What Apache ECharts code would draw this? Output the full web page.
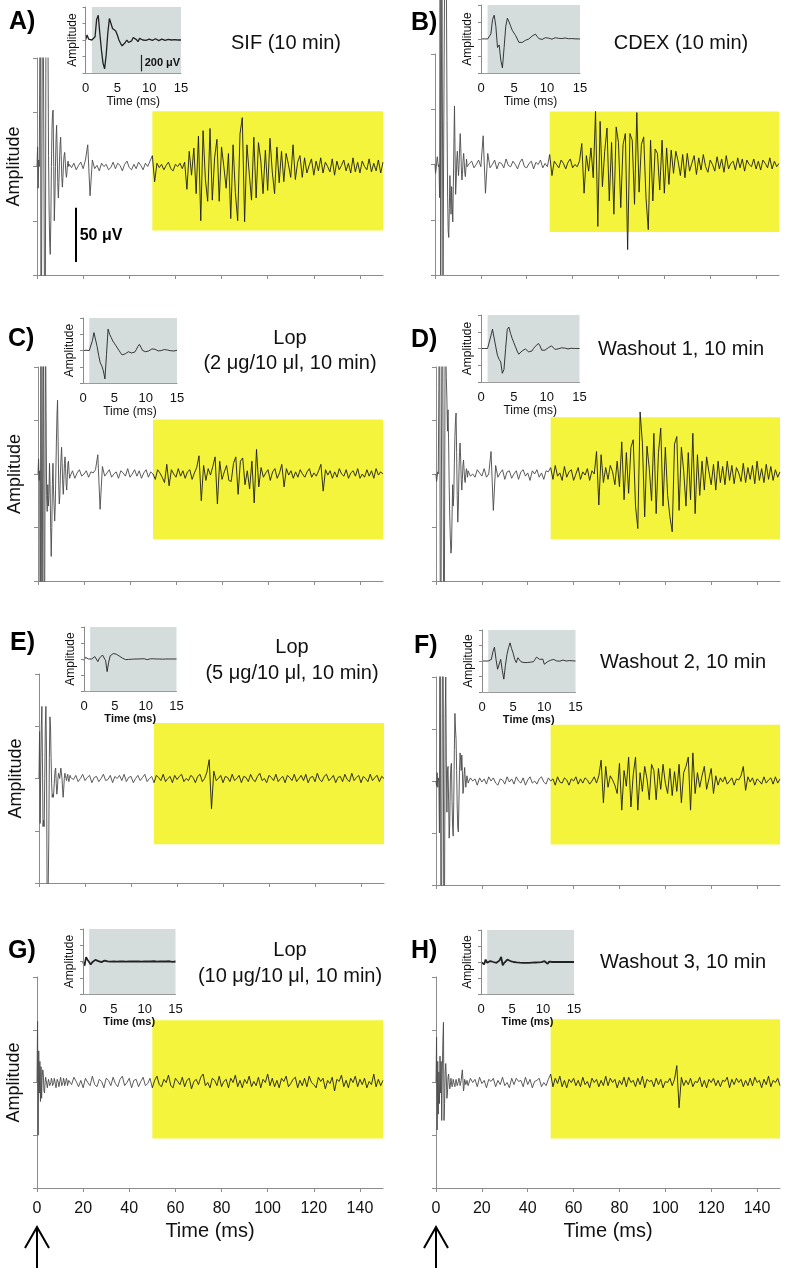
<!DOCTYPE html>
<html><head><meta charset="utf-8">
<script src="https://cdn.jsdelivr.net/npm/echarts@6/dist/echarts.min.js"></script>
<style>html,body{margin:0;padding:0;background:#fff}#c{width:788px;height:1273px}</style>
</head><body><div id="c"></div>
<script>
// ---------------- DATA ----------------
const panelLetters = ['A)','B)','C)','D)','E)','F)','G)','H)'];
const panelTitles = [
  ['SIF (10 min)'], ['CDEX (10 min)'],
  ['Lop','(2 μg/10 μl, 10 min)'], ['Washout 1, 10 min'],
  ['Lop','(5 μg/10 μl, 10 min)'], ['Washout 2, 10 min'],
  ['Lop','(10 μg/10 μl, 10 min)'], ['Washout 3, 10 min']
];
const mainXTicks = [0,20,40,60,80,100,120,140];
const insetXTicks = [0,5,10,15];
const earlyStep = 0.25;   // ms, samples 0 .. 13.75 ms
const lateStart = 14;     // ms
const lateStep = 1;       // ms, samples 14 .. 150 ms
const insetStep = 0.25;   // ms, samples 0 .. 15 ms
const windowStart = 50, windowEnd = 150;   // analysis window (ms)
const insetShadeStart = 1, insetShadeEnd = 15;
// analysis window vertical extent per panel (µV)
const windowLow  = [-59,-61,-61,-61,-63,-61,-53,-53];
const windowHigh = [ 51, 48, 51, 53, 53, 54, 59, 60];
const scaleBarMain = 50;   // µV
const scaleBarInset = 200; // µV

const earlyA = [0,18,-20,6,0,0,250,-250, -250,-250,250,250,250,250,-250,-250,
  250,250,250,120,10,-40,-70,-81, -50,0,35,50,52,0,-50,-30,
  0,25,38,15,-15,-29,-15,5, 20,27,10,-10,-19,-10,3,10, 13,5,-5,-10,-5,3,5,0];
const lateA = [2,-1,3,-3,1,4,-2,6,20,-27, 6,-2,1,-4,3,0,2,-3,-1,4,
  -2,3,1,-4,2,5,-1,-3,2,-2, 4,1,-3,3,0,5,10,-14,3,-1,
  2,-3,1,4,-2,-4,2,0,3,-2, 4,-21,14,-8,17,-25,28,-50,33,-12,
  -32,35,-31,8,25,-32,18,0,-20,12, -48,20,-24,-50,30,45,-51,20,-6,-31,
  27,-29,22,6,-25,15,-22,26,-5,-25, 18,-15,14,-14,12,2,-10,20,-12,4,
  10,-10,8,-6,1,7,-8,5,-4,8, -6,4,0,-5,7,-8,5,-3,1,6,
  -4,3,-6,8,-5,4,-6,5,0,-3, 7,-5,3,-4,6,-6,4];
const insetA = [0,60,10,0,0,5,40,250, 300,80,-120,-280,-350,-180,80,260,
  200,140,130,110,60,0,-40,-70, -60,-30,0,-30,-45,-10,30,35,
  5,-20,20,25,0,-15,-5,5, 10,0,-5,10,15,0,-8,5, 10,2,-5,3,8,2,0,3, 5,2,0,2,0];

const earlyB = [0,-8,-4,3,7,2,-2,0, -30,185,-100,-100,185,185,-100,-100,
  100,185,185,185,150,40,-30,-60, -66,-40,-10,-30,-45,-20,-35,-52,
  -20,20,53,10,-27,-15,5,12, 0,-10,0,15,28,15,-5,-14, -8,4,10,2,-8,-11,-3,5];
const lateB = [-2,1,3,-3,0,4,-2,26,-26,10, -3,0,4,-4,2,1,-3,5,-1,-2,
  3,0,-4,2,5,-2,-3,1,3,-4, 2,0,4,-3,1,-2,9,-10,3,0,
  -3,4,1,-4,2,5,-3,0,-2,3, 19,-26,8,-6,15,-12,48,-56,39,-20,
  12,33,-33,20,-45,34,20,-39,18,28, -77,28,22,-36,47,-25,18,25,-30,-59,
  22,-33,14,10,-23,22,-26,15,-18,13, -8,12,3,-10,9,-12,10,-6,1,8,
  -9,6,-5,9,-2,-7,4,0,-6,7, -4,5,-7,8,-4,1,3,-5,6,-3,
  5,-6,4,0,-2,5,-4,3,-5,4, 1,-3,6,-4,3,-2,1];
const insetB = [0,0,2,0,0,10,60,230, 280,150,-100,-70,-250,-340,-100,150,
  245,200,150,100,70,40,0,-40, -57,-40,-25,-15,-10,0,15,35,
  50,57,30,5,-10,-5,5,15, 20,10,0,-2,5,15,18,8, 2,5,10,12,5,3,6,5, 3,2,0,1,0];

const earlyC = [0,14,-6,3,-250,250,250,-250, -250,250,250,-250,-250,150,60,-20,
  -35,-10,-30,-20,10,-10,-50,-77, -50,-10,10,-15,-30,-44,-30,0,
  30,55,69,30,-10,-28,-20,0, 15,25,10,-10,-19,-5,10,16, 5,-10,-15,-2,10,12,2,-4];
const lateC = [-2,3,-4,1,4,-2,0,3,-3,2, 1,4,18,-33,7,-2,1,4,-3,0,
  2,-4,3,1,-2,5,-3,0,4,-2, 3,-4,1,4,-3,2,0,-5,4,1,
  -3,-8,9,-11,4,0,-3,5,-2,3, -4,2,4,-5,1,6,17,-25,8,-6,
  5,-1,7,16,-28,12,-5,2,8,-6, -7,10,16,-19,12,15,-10,3,-14,12,
  -27,23,-12,6,-3,1,4,-6,2,5, -4,1,9,-12,5,-1,3,-4,2,-3,
  4,0,-3,2,5,-3,1,-2,3,9, -16,4,-1,3,-4,2,-3,5,0,-2,
  4,-4,1,3,-2,5,-4,0,-3,4, -2,3,-4,5,-1,2,0];
const insetC = [0,0,3,0,0,20,120,220, 200,50,-60,-150,-190,-250,-350,-50,
  263,200,160,117,90,60,30,0, -30,-55,-70,-40,-25,-15,-20,-30,
  -40,-20,10,50,75,40,0,-10, -15,-12,-5,10,20,22,15,5, -5,-8,0,10,12,8,5,0, -3,-8,-6,0,3];

const earlyD = [0,-7,-3,2,0,80,250,250, -250,-250,-250,250,250,250,-250,-250,
  150,120,90,70,40,60,30,-10, -40,-60,-74,-70,-40,-10,-30,-20,
  10,35,50,57,20,-20,-45,-30, 0,20,29,15,-5,-15,-5,8, 13,4,-6,-8,0,5,2,-3];
const lateD = [3,-2,0,-3,4,1,-2,5,-3,0, 21,-34,8,-3,1,4,-5,2,3,-4,
  0,3,-5,2,4,-2,1,-6,3,0, 4,-3,1,-5,3,2,6,-5,8,-2,
  1,-6,7,-3,2,4,-6,0,6,-5, 2,-1,5,-6,3,0,21,-29,18,-8,
  6,-5,8,2,-10,12,-12,30,-24,20, -18,25,32,-30,-51,58,29,-40,26,5,
  -25,38,-37,20,43,-30,25,-20,-40,-54, 28,35,-34,25,3,-30,20,-24,38,-37,
  18,-20,12,-15,16,2,-10,9,-15,12, -8,7,-10,12,-6,8,-9,6,1,-7,
  10,-8,6,-5,8,-9,12,-6,5,-8, 9,-5,7,-6,4,-3,2];
const insetD = [0,0,0,2,0,20,150,230, 220,20,-80,-128,-160,-296,-250,0,
  230,256,180,120,70,20,-30,-68, -50,-30,-20,-5,-10,-40,-56,-30,
  0,25,45,60,30,-20,-40,-20, -5,10,25,32,15,-10,-20,-5, 5,8,12,5,-10,-5,0,3, 0,0,2,0,0];

const earlyE = [0,45,-43,10,50,69,20,-46, -40,-46,0,50,69,30,-100,-150,
  -150,-60,20,59,50,20,-5,-18, -15,-18,-10,0,8,10,-5,-15,
  -10,0,5,3,0,5,10,11, 0,-10,-18,-10,0,5,3,0, -2,2,4,0,-3,0,3,1];
const lateE = [2,-1,3,-3,0,4,-2,1,3,-4, 1,2,-3,0,4,-2,-1,3,-4,2,
  0,3,-2,4,-3,1,2,-4,0,3, -2,1,4,-3,0,2,-4,3,1,-2,
  4,-3,0,2,-4,3,-1,2,4,-3, 0,-2,3,1,-4,2,4,-3,0,6,
  18,-29,7,-2,0,3,-4,2,1,-3, 4,-2,0,3,-4,2,1,-3,4,-1,
  -3,2,5,-2,0,-4,3,1,-2,4, -3,0,2,-4,3,1,-2,4,-3,0,
  3,-2,4,-4,1,2,-3,5,-1,-3, 2,4,-2,0,3,-4,1,2,-3,4,
  -1,-3,5,-2,1,3,-4,2,0,-3, 4,-2,1,3,-3,2,0];
const insetE = [-20,20,40,0,-15,0,20,30, 40,-33,10,30,50,62,-20,-158,
  -40,40,60,68,70,60,50,35, 20,10,-5,-8,-8,-5,-5,-3,
  0,0,-2,0,0,2,0,3, 12,-8,0,2,8,3,0,0, 2,0,0,-2,0,0,2,0, 0,0,-2,0,0];

const earlyF = [0,-5,8,-6,3,0,-50,250, 250,-250,-250,-250,250,250,-250,-250,
  60,100,20,-30,10,14,-20,-55, -40,0,15,17,-20,-45,-53,-20,
  30,65,50,40,10,-25,-45,-49, -20,10,27,20,10,25,10,-12, -8,6,13,2,-6,0,5,2];
const lateF = [-2,3,0,2,-4,3,-1,2,-3,4, 0,3,-2,-4,2,1,-3,4,-1,2,
  -3,4,0,-2,3,-4,1,4,-2,0, -3,2,4,-1,-3,3,0,2,-4,4,
  -1,-2,3,1,-4,2,0,4,-3,2, -2,3,1,-3,0,4,-2,5,20,-21,
  14,-6,5,1,-4,-12,17,-28,10,-5, 23,-25,6,23,-28,8,-10,14,2,-18,
  16,10,-18,12,-8,16,-2,-12,12,-14, 9,-10,16,-21,8,14,23,-28,27,-12,
  8,-6,5,14,-8,2,12,-12,5,-4, 3,-1,4,-3,0,3,-4,2,1,5,
  14,-9,4,-1,3,-4,2,0,-3,4, -2,1,3,-3,4,-2,2];
const insetF = [0,0,0,0,0,10,20,120, 178,20,-106,-90,21,-120,-234,-60,
  80,170,234,160,100,20,-21,42, 20,-10,5,-20,-42,-20,0,-15,
  -30,-10,20,50,72,20,40,25, -42,-30,-10,0,10,15,20,10, 0,-5,-2,5,12,10,0,-5, 5,10,3,0,0];

const earlyG = [0,58,-50,30,-10,20,-18,15, -15,5,12,8,-8,-10,0,5,
  4,-2,-5,0,3,2,-3,-4, 0,4,2,-3,-4,0,4,3,
  -2,-5,-1,3,4,0,-4,-3, 2,5,1,-3,-4,0,4,2, -3,-4,1,4,2,-3,-2,2];
const lateG = [3,-2,5,1,-4,2,-5,4,0,-3, 6,-2,-4,3,1,-5,4,2,-3,5,
  -1,-4,3,6,-3,0,4,-5,2,3, -4,1,5,-3,-1,4,-5,2,6,-2,
  -4,3,0,7,-3,-5,4,1,-2,5, -4,2,4,-6,1,3,-2,5,8,-3,
  0,-5,4,2,-3,6,-4,1,3,-5, 4,0,7,-4,2,-5,3,-1,6,-4,
  1,-3,5,-5,3,0,8,-3,4,-4, 2,-5,4,1,6,-4,-1,3,5,-5,
  2,-3,4,-4,6,0,-2,-5,5,1, 4,-6,2,-1,5,-8,3,1,7,-4,
  2,-5,4,0,6,-4,3,-2,4,-5, 1,-2,8,-4,3,-3,2];
const insetG = [0,-50,54,20,10,-37,-10,5, 20,25,5,-8,-8,5,12,8,
  2,0,-2,0,2,0,-2,0, 2,2,0,0,-2,0,2,0,
  0,-2,0,2,0,0,-2,0, 2,0,0,-2,0,2,3,0, -2,0,0,2,0,-2,0,2, 3,0,-5,0,0];

const earlyH = [0,43,-45,20,-30,10,-20,25, -10,20,-36,10,40,57,-36,-20,
  10,18,5,-15,-10,5,8,0, -6,-3,4,3,-4,-2,3,4,
  -2,-4,0,3,2,-3,-4,1, 4,2,-3,-4,2,8,12,2, -8,-4,3,4,-2,-3,2,3];
const lateH = [-3,4,0,3,-4,5,-1,2,-5,3, 1,4,-4,2,-2,5,-3,0,-5,4,
  -2,4,1,2,-4,5,-2,3,-5,1, 2,4,-4,0,-3,3,8,-4,4,-1,
  6,-4,2,-5,3,0,4,-3,2,-4, 5,-2,1,-5,4,0,3,-4,2,-3,
  6,-3,4,0,3,-5,2,-2,5,-4, 5,0,2,-4,4,-2,6,-5,3,1,
  2,-4,4,-2,3,-5,1,0,4,-3, 3,16,-24,5,-3,2,-2,4,-4,1,
  0,5,-4,2,-5,3,0,4,-3,2, -4,2,1,5,-5,3,-2,4,0,3,
  -4,2,-3,4,-3,5,0,2,-5,3, -2,6,-4,2,0,4,-3];
const insetH = [0,20,-30,30,-10,5,12,5, 0,8,-10,-21,20,64,-42,-10,
  15,30,20,12,5,0,-2,-5, -5,-8,-8,-10,-10,-12,-12,-10,
  -10,-8,-8,-6,-6,-5,-4,-2, 0,10,12,-21,5,0,0,0, 0,0,0,0,0,0,0,0, 0,0,0,0,0];

// ---------------- LAYOUT / STYLE ----------------
const FONT = 'Liberation Sans, Arial, Helvetica, sans-serif';
const earlyList = [earlyA,earlyB,earlyC,earlyD,earlyE,earlyF,earlyG,earlyH];
const lateList  = [lateA,lateB,lateC,lateD,lateE,lateF,lateG,lateH];
const insetList = [insetA,insetB,insetC,insetD,insetE,insetF,insetG,insetH];
const mainBoxes = [[37,58,346,217],[435,54,344,221],[38,367,345,214],[436,367,344,214],
                   [39,674,345,209],[436,677,344,208],[37,977,346,211],[436,977,344,211]];
const insetBoxes = [[85.5,7,95.5,66],[481,5,99,68],[83,318,94,65],[481,315,98.5,67],
                    [84,627,92.5,64],[482,630,93.5,62],[83,929,92.5,65],[481,930,93,64]];
const letterPos = [[9,24],[411,25],[8,341],[411,342],[10,645],[414,648],[8,953],[411,953]];
const titlePos = [[[286,43]],[[681,43]],[[290,338],[290,363]],[[681,349]],
                  [[292,647],[292,673]],[[683,662]],[[290,950],[290,976]],[[683,962]]];

function buildTrace(early, late) {
  const d = [];
  early.forEach((v, i) => d.push([i * earlyStep, v]));
  late.forEach((v, i) => d.push([lateStart + i * lateStep, v]));
  return d;
}
function buildInset(vals) { return vals.map((v, i) => [i * insetStep, v]); }

const grids = [], xAxes = [], yAxes = [], series = [];
const AX = '#8c8c8c';
for (let i = 0; i < 8; i++) {
  const b = mainBoxes[i];
  grids.push({left: b[0], top: b[1], width: b[2], height: b[3]});
  const bottomRow = i >= 6;
  xAxes.push({
    type: 'value', gridIndex: i, min: 0, max: 150,
    axisLine: {onZero: false, lineStyle: {color: AX, width: 1}},
    axisTick: {show: true, customValues: mainXTicks, length: 4, lineStyle: {color: AX}},
    axisLabel: {show: bottomRow, customValues: mainXTicks, fontSize: 16, color: '#111', margin: 13, fontFamily: FONT},
    splitLine: {show: false},
    name: bottomRow ? 'Time (ms)' : '', nameLocation: 'middle', nameGap: 33,
    nameTextStyle: {fontSize: 20, color: '#111', fontFamily: FONT}
  });
  yAxes.push({
    type: 'value', gridIndex: i, min: -100, max: 100, interval: 50,
    axisLine: {show: true, onZero: false, lineStyle: {color: AX, width: 1}},
    axisTick: {show: true, length: 4, lineStyle: {color: AX}},
    axisLabel: {show: false}, splitLine: {show: false},
    name: (i % 2 === 0) ? 'Amplitude' : '', nameLocation: 'middle', nameGap: 14,
    nameTextStyle: {fontSize: 18, color: '#111', fontFamily: FONT}
  });
}
for (let i = 0; i < 8; i++) {
  const b = insetBoxes[i];
  grids.push({left: b[0], top: b[1], width: b[2], height: b[3]});
  const boldName = i >= 4;
  xAxes.push({
    type: 'value', gridIndex: 8 + i, min: 0, max: 15, interval: 5, z: 6,
    axisLine: {onZero: false, lineStyle: {color: '#9a9a9a', width: 1}},
    axisTick: {show: false},
    axisLabel: {show: true, customValues: insetXTicks, fontSize: 13, color: '#111', margin: 9, fontFamily: FONT},
    splitLine: {show: false},
    name: 'Time (ms)', nameLocation: 'middle', nameGap: 21,
    nameTextStyle: {fontSize: boldName ? 11 : 12, color: '#111', fontWeight: boldName ? 'bold' : 'normal', fontFamily: FONT}
  });
  yAxes.push({
    type: 'value', gridIndex: 8 + i, min: -400, max: 400, interval: 200, z: 6,
    axisLine: {show: true, onZero: false, lineStyle: {color: '#8a8a8a', width: 1}},
    axisTick: {show: true, length: 3, lineStyle: {color: '#8a8a8a'}},
    axisLabel: {show: false}, splitLine: {show: false},
    name: 'Amplitude', nameLocation: 'middle', nameGap: 7,
    nameTextStyle: {fontSize: 12, color: '#111', fontFamily: FONT}
  });
}

for (let i = 0; i < 8; i++) {
  const full = buildTrace(earlyList[i], lateList[i]);
  // trace drawn lighter before the analysis window and darker inside it
  const pre = full.filter(p => p[0] <= windowStart);
  const post = full.filter(p => p[0] >= windowStart);
  const s = {
    type: 'line', xAxisIndex: i, yAxisIndex: i,
    data: pre,
    showSymbol: false, symbol: 'none', clip: i !== 1,
    lineStyle: {color: '#4a4a4a', width: 0.9},
    animation: false, silent: true,
    markArea: {
      silent: true,
      itemStyle: {color: '#f4f43c', opacity: 1},
      data: [[{xAxis: windowStart, yAxis: windowLow[i]}, {xAxis: windowEnd, yAxis: windowHigh[i]}]]
    }
  };
  if (i === 0) {
    s.markLine = {
      silent: true, symbol: ['none', 'none'],
      lineStyle: {color: '#000', width: 2, type: 'solid'},
      label: {show: false},
      data: [[{coord: [17, -38]}, {coord: [17, -38 - scaleBarMain]}]]
    };
    s.markPoint = {
      silent: true, symbol: 'circle', symbolSize: 0,
      data: [{coord: [18.5, -64], label: {show: true, position: 'right', distance: 0,
        formatter: scaleBarMain + ' μV', fontSize: 16, fontWeight: 'bold', color: '#000', fontFamily: FONT}}]
    };
  }
  series.push(s);
  series.push({
    type: 'line', xAxisIndex: i, yAxisIndex: i, z: 3,
    data: post,
    showSymbol: false, symbol: 'none', clip: true,
    lineStyle: {color: '#1c1c1c', width: 0.9},
    animation: false, silent: true
  });
}
for (let i = 0; i < 8; i++) {
  const thick = i >= 6;
  const s = {
    type: 'line', xAxisIndex: 8 + i, yAxisIndex: 8 + i,
    data: buildInset(insetList[i]),
    showSymbol: false, symbol: 'none', clip: true, z: 4,
    lineStyle: {color: '#222', width: thick ? 1.8 : (i === 0 ? 1.3 : 0.9)},
    animation: false, silent: true,
    markArea: {
      silent: true,
      itemStyle: {color: '#d5dcdc', opacity: 1},
      data: [[{xAxis: insetShadeStart}, {xAxis: insetShadeEnd}]]
    }
  };
  if (i === 0) {
    s.markLine = {
      silent: true, symbol: ['none', 'none'],
      lineStyle: {color: '#222', width: 1.2, type: 'solid'},
      label: {show: false},
      data: [[{coord: [8.8, -180]}, {coord: [8.8, -180 - scaleBarInset]}]]
    };
    s.markPoint = {
      silent: true, symbol: 'circle', symbolSize: 0,
      data: [{coord: [9.3, -280], label: {show: true, position: 'right', distance: 0,
        formatter: scaleBarInset + ' μV', fontSize: 11, fontWeight: 'bold', color: '#111', fontFamily: FONT}}]
    };
  }
  series.push(s);
}

const graphics = [];
for (let i = 0; i < 8; i++) {
  graphics.push({type: 'text', left: letterPos[i][0], top: letterPos[i][1] - 14,
    style: {text: panelLetters[i], fontSize: 25, fontWeight: 'bold', fill: '#000', fontFamily: FONT}});
  panelTitles[i].forEach((t, k) => {
    const p = titlePos[i][k];
    graphics.push({type: 'text', x: p[0], y: p[1],
      style: {text: t, fontSize: 20, fill: '#111', fontFamily: FONT, textAlign: 'center', textVerticalAlign: 'middle'}});
  });
}

const chart = echarts.init(document.getElementById('c'), null, {renderer: 'canvas'});
chart.setOption({
  backgroundColor: '#fff', animation: false,
  grid: grids, xAxis: xAxes, yAxis: yAxes, series: series, graphic: graphics
});
// stimulus arrows under the bottom panels at t = 0
[6, 7].forEach(gi => {
  const x0 = chart.convertToPixel({xAxisIndex: gi}, 0);
  graphics.push({type: 'polyline', shape: {points: [[x0 - 12, 1248], [x0, 1227], [x0 + 12, 1248]]},
    style: {stroke: '#000', lineWidth: 2, fill: null}});
  graphics.push({type: 'line', shape: {x1: x0, y1: 1228, x2: x0, y2: 1268},
    style: {stroke: '#000', lineWidth: 2}});
});
chart.setOption({graphic: graphics});
</script>
</body></html>
